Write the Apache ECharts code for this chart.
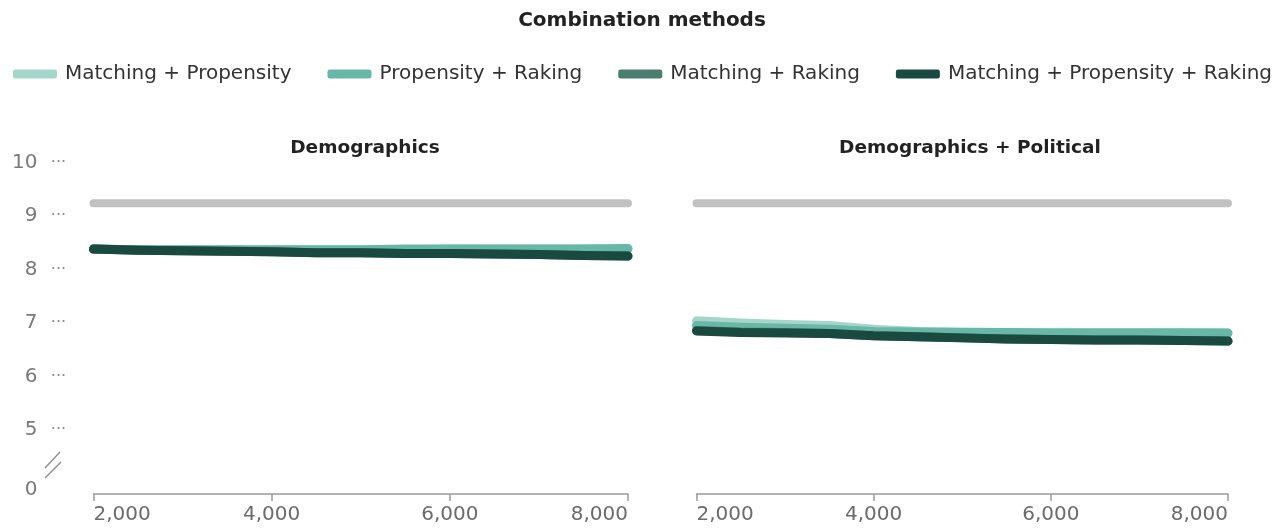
<!DOCTYPE html>
<html>
<head>
<meta charset="utf-8">
<script src="https://cdn.jsdelivr.net/npm/echarts@6/dist/echarts.min.js"></script>
<style>
html,body{margin:0;padding:0;background:#fff;}
#chart{width:1284px;height:529px;}
</style>
</head>
<body>
<div id="chart"></div>
<script>
// ---- data ----
const sampleSizes = [2000, 2500, 3000, 3500, 4000, 4500, 5000, 5500, 6000, 6500, 7000, 7500, 8000];
const panelTitles = ['Demographics', 'Demographics + Political'];
const seriesNames = ['Matching + Propensity', 'Propensity + Raking', 'Matching + Raking', 'Matching + Propensity + Raking'];
const baselineName = 'Unadjusted';
const yTickValues = [3.87, 5, 6, 7, 8, 9, 10];
const yTickLabels = ['0', '5', '6', '7', '8', '9', '10'];
const xTicks = [2000, 4000, 6000, 8000];

// Demographics panel
const demoBaseline   = [9.24, 9.24, 9.24, 9.24, 9.24, 9.24, 9.24, 9.24, 9.24, 9.24, 9.24, 9.24, 9.24];
const demoMatchProp  = [8.38, 8.37, 8.37, 8.37, 8.37, 8.37, 8.37, 8.37, 8.38, 8.38, 8.38, 8.38, 8.38];
const demoPropRake   = [8.38, 8.37, 8.37, 8.37, 8.37, 8.37, 8.37, 8.38, 8.38, 8.38, 8.38, 8.38, 8.39];
const demoMatchRake  = [8.38, 8.36, 8.35, 8.34, 8.33, 8.31, 8.31, 8.30, 8.30, 8.29, 8.28, 8.26, 8.25];
const demoAll        = [8.38, 8.36, 8.35, 8.34, 8.33, 8.31, 8.31, 8.30, 8.30, 8.29, 8.28, 8.26, 8.25];

// Demographics + Political panel
const polBaseline    = [9.24, 9.24, 9.24, 9.24, 9.24, 9.24, 9.24, 9.24, 9.24, 9.24, 9.24, 9.24, 9.24];
const polMatchProp   = [7.04, 7.00, 6.97, 6.95, 6.88, 6.84, 6.83, 6.82, 6.82, 6.82, 6.82, 6.82, 6.81];
const polPropRake    = [6.95, 6.92, 6.90, 6.88, 6.84, 6.83, 6.82, 6.82, 6.81, 6.81, 6.81, 6.81, 6.81];
const polMatchRake   = [6.86, 6.83, 6.82, 6.80, 6.76, 6.74, 6.72, 6.70, 6.69, 6.68, 6.68, 6.67, 6.66];
const polAll         = [6.85, 6.82, 6.81, 6.80, 6.76, 6.74, 6.72, 6.70, 6.69, 6.68, 6.68, 6.67, 6.66];

const colors = ['#a6d6c9', '#68b8a7', '#4a7f6f', '#1a4a3f'];
const grayColor = '#c1c1c1';
const FONT = '"DejaVu Sans", "Noto Sans", sans-serif';

const chart = echarts.init(document.getElementById('chart'), null, {renderer: 'canvas'});

function pairs(arr) { return sampleSizes.map((x, i) => [x, arr[i]]); }

const panels = [
  [demoBaseline, demoMatchProp, demoPropRake, demoMatchRake, demoAll],
  [polBaseline, polMatchProp, polPropRake, polMatchRake, polAll]
];

const series = [];
panels.forEach((p, gi) => {
  series.push({
    name: baselineName, type: 'line', xAxisIndex: gi, yAxisIndex: gi,
    data: pairs(p[0]), showSymbol: false, symbol: 'none', silent: true,
    lineStyle: {width: 8, color: grayColor, cap: 'round', join: 'round'}, z: 2
  });
  for (let k = 0; k < 4; k++) {
    series.push({
      name: seriesNames[k], type: 'line', xAxisIndex: gi, yAxisIndex: gi,
      data: pairs(p[k + 1]), showSymbol: false, symbol: 'none',
      itemStyle: {color: colors[k]},
      lineStyle: {width: 9, color: colors[k], cap: 'round', join: 'round'}, z: 3 + k
    });
  }
});

const grids = [
  {left: 93.5, right: 656, top: 162.5, bottom: 35},
  {left: 696.5, right: 56, top: 162.5, bottom: 35}
];

const xAxes = grids.map((g, i) => ({
  gridIndex: i, type: 'value', min: 2000, max: 8000, interval: 2000,
  splitLine: {show: false},
  axisLine: {show: true, lineStyle: {color: '#9a9a9a', width: 1.5}},
  axisTick: {show: true, length: 7, inside: false, lineStyle: {color: '#9a9a9a', width: 1.5}},
  axisLabel: {
    color: '#6b6b6b', fontSize: 20, fontFamily: FONT, margin: 11,
    alignMinLabel: 'left', alignMaxLabel: 'right',
    formatter: v => v.toLocaleString('en-US')
  }
}));

const yAxes = grids.map((g, i) => ({
  gridIndex: i, type: 'value', min: 3.8, max: 10,
  splitLine: {show: false},
  axisLine: {show: false},
  axisTick: {show: false},
  axisLabel: {
    show: i === 0,
    customValues: yTickValues,
    margin: 27,
    formatter: v => {
      const idx = yTickValues.findIndex(t => Math.abs(t - v) < 1e-6);
      const lab = idx >= 0 ? yTickLabels[idx] : '';
      if (lab === '0') return '{v|' + lab + '}{e|}';
      return '{v|' + lab + '}{d|···}';
    },
    rich: {
      v: {color: '#7a7a7a', fontSize: 20, fontFamily: FONT},
      d: {color: '#8a8a8a', fontSize: 16, fontFamily: FONT, width: 16, padding: [0, 0, 0, 13], align: 'left'},
      e: {width: 29}
    }
  }
}));

chart.setOption({
  backgroundColor: '#ffffff',
  animation: false,
  title: [
    {text: 'Combination methods', left: 'center', top: 6,
     textStyle: {fontFamily: FONT, fontSize: 20, fontWeight: 'bold', color: '#222'}},
    {text: panelTitles[0], left: 360, textAlign: 'center', top: 134,
     textStyle: {fontFamily: FONT, fontSize: 18.5, fontWeight: 'bold', color: '#222'}},
    {text: panelTitles[1], left: 965, textAlign: 'center', top: 134,
     textStyle: {fontFamily: FONT, fontSize: 18.5, fontWeight: 'bold', color: '#222'}}
  ],
  legend: {
    data: seriesNames.map(n => ({name: n, icon: 'roundRect'})),
    left: 13, top: 64, width: 1271, padding: 0,
    itemWidth: 44, itemHeight: 9, itemGap: 36,
    textStyle: {fontFamily: FONT, fontSize: 20, color: '#333', padding: [0, 0, 0, 3]},
    selectedMode: false
  },
  grid: grids,
  xAxis: xAxes,
  yAxis: yAxes,
  series: series,
  graphic: [
    {type: 'line', shape: {x1: 45, y1: 468, x2: 60, y2: 452}, style: {stroke: '#8a8a8a', lineWidth: 1.3}},
    {type: 'line', shape: {x1: 45, y1: 478, x2: 61, y2: 462}, style: {stroke: '#8a8a8a', lineWidth: 1.3}}
  ]
});
</script>
</body>
</html>
